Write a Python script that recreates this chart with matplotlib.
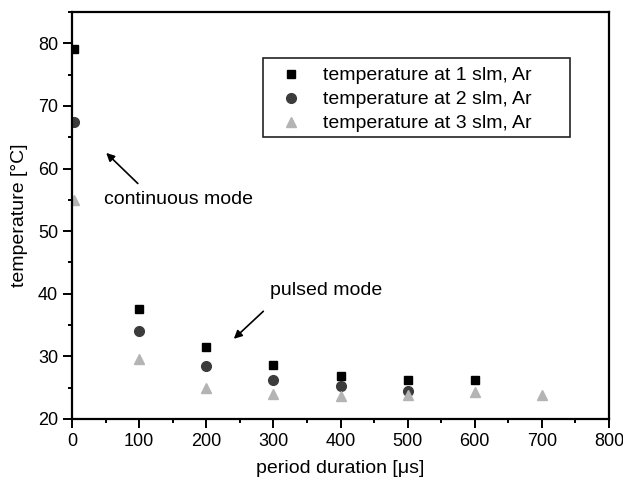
import matplotlib.pyplot as plt
from matplotlib.patches import Rectangle
from matplotlib.ticker import MultipleLocator

plt.rcParams["font.family"] = ["Liberation Sans", "DejaVu Sans"]

x_1slm = [3, 100, 200, 300, 400, 500, 600]
t_1slm = [79.1, 37.5, 31.5, 28.7, 26.9, 26.2, 26.3]
x_2slm = [3, 100, 200, 300, 400, 500]
t_2slm = [67.4, 34.0, 28.5, 26.3, 25.2, 24.5]
x_3slm = [3, 100, 200, 300, 400, 500, 600, 700]
t_3slm = [54.9, 29.6, 24.9, 24.0, 23.7, 23.8, 24.3, 23.9]

fig = plt.figure(figsize=(6.23, 4.79), dpi=100)
ax = fig.add_axes([0.1156, 0.1253, 0.862, 0.8497])

ax.plot(x_1slm, t_1slm, ls="none", marker="s", ms=6, color="black",
        label="temperature at 1 slm, Ar")
ax.plot(x_2slm, t_2slm, ls="none", marker="o", ms=7, color="#3c3c3c",
        label="temperature at 2 slm, Ar")
ax.plot(x_3slm, t_3slm, ls="none", marker="^", ms=7, color="#b4b4b4",
        label="temperature at 3 slm, Ar")

ax.set_xlim(0, 800)
ax.set_ylim(20, 85)
ax.xaxis.set_major_locator(MultipleLocator(100))
ax.xaxis.set_minor_locator(MultipleLocator(50))
ax.yaxis.set_major_locator(MultipleLocator(10))
ax.yaxis.set_minor_locator(MultipleLocator(5))
ax.tick_params(which="major", length=6.5, width=1.4, labelsize=13, direction="out")
ax.tick_params(which="minor", length=3, width=1.4, direction="out")
for s in ax.spines.values():
    s.set_linewidth(1.6)

ax.set_xlabel("period duration [μs]", fontsize=14, labelpad=7)
ax.set_ylabel("temperature [°C]", fontsize=14, labelpad=7)

ax.annotate("", xy=(48, 62.8), xytext=(101, 57.3),
            arrowprops=dict(arrowstyle="-|>", color="black", lw=1.2,
                            mutation_scale=12))
ax.text(48, 55.1, "continuous mode", fontsize=14, va="center", ha="left")
ax.annotate("", xy=(238, 32.5), xytext=(288, 37.5),
            arrowprops=dict(arrowstyle="-|>", color="black", lw=1.2,
                            mutation_scale=12))
ax.text(295, 40.5, "pulsed mode", fontsize=14, va="center", ha="left")

# legend box is wider than the entries, draw it separately
ax.add_patch(Rectangle((0.3557, 0.693), 0.5717, 0.194, transform=ax.transAxes,
                       fill=False, edgecolor="#222222", lw=1.2, zorder=3))
ax.legend(loc="upper left", bbox_to_anchor=(0.356, 0.887), fontsize=14,
          frameon=False, handletextpad=0.6, borderpad=0.45,
          labelspacing=0.33, borderaxespad=0)

fig.savefig("out.png", dpi=100)
